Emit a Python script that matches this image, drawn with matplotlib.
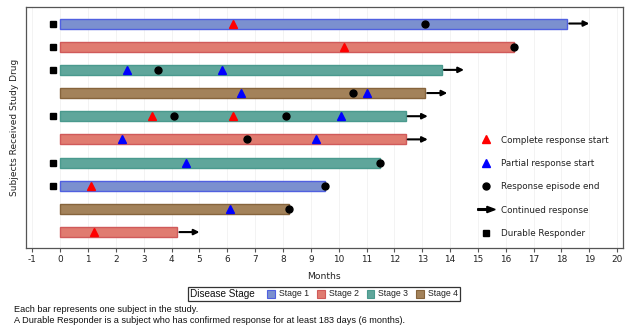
import matplotlib
matplotlib.use('Agg')
import matplotlib.pyplot as plt
import matplotlib.patches as mpatches
import numpy as np
from matplotlib.lines import Line2D
from matplotlib.legend_handler import HandlerPatch
from matplotlib.offsetbox import TextArea, DrawingArea, HPacker, AnchoredOffsetbox

# --- Data (one entry per subject, top to bottom) ---
stage = [1, 2, 3, 4, 3, 2, 3, 1, 4, 2]
duration = [18.2, 16.3, 13.7, 13.1, 12.4, 12.4, 11.5, 9.5, 8.2, 4.2]
cr_start = [[6.2], [10.2], [], [], [3.3, 6.2], [], [], [1.1], [], [1.2]]
pr_start = [[], [], [2.4, 5.8], [6.5, 11.0], [10.1], [2.2, 9.2], [4.5], [], [6.1], []]
resp_end = [[13.1], [16.3], [3.5], [10.5], [4.1, 8.1], [6.7], [11.5], [9.5], [8.2], []]
continued = [True, False, True, True, True, True, False, False, False, True]
durable = [True, True, True, False, True, False, True, True, False, False]

stage_labels = ['Stage 1', 'Stage 2', 'Stage 3', 'Stage 4']
x_ticks = list(range(-1, 21))

# --- Styles ---
stage_fill = {1: '#7b90cf', 2: '#e07b70', 3: '#5fa69b', 4: '#a3825a'}
stage_edge = {1: '#5060e0', 2: '#d05a5a', 3: '#4a9a8e', 4: '#86643c'}
DURABLE_X = -0.25

fig = plt.figure(figsize=(6.29, 3.28), dpi=100)
ax = fig.add_axes([26 / 629, 1 - 248.3 / 328, (622.7 - 26) / 629, (248.3 - 7.3) / 328])

rows = np.arange(1, len(duration) + 1)

# vertical grid, very faint
for t in x_ticks:
    ax.axvline(t, color='#f1f1f1', lw=0.6, zorder=0)

# --- Bars ---
ax.barh(rows, duration, left=0, height=0.43,
        color=[stage_fill[s] for s in stage],
        edgecolor=[stage_edge[s] for s in stage], linewidth=1, zorder=2)

# --- Events ---
for i, y in enumerate(rows):
    for x in cr_start[i]:
        ax.plot(x, y, marker='^', color='red', ms=5.5, ls='none', zorder=4)
    for x in pr_start[i]:
        ax.plot(x, y, marker='^', color='blue', ms=5.5, ls='none', zorder=4)
    for x in resp_end[i]:
        ax.plot(x, y, marker='o', color='black', ms=5, ls='none', zorder=4)
    if continued[i]:
        ax.annotate('', xy=(duration[i] + 0.8, y), xytext=(duration[i] + 0.08, y),
                    arrowprops=dict(arrowstyle='-|>', color='black', lw=1.5,
                                    mutation_scale=8, shrinkA=0, shrinkB=0),
                    zorder=4)
    if durable[i]:
        ax.plot(DURABLE_X, y, marker='s', color='black', ms=5, ls='none', zorder=4)

# --- Axes ---
ax.set_xlim(-1.23, 20.2)
ax.set_ylim(10.7, 0.3)
ax.set_xticks(x_ticks)
ax.set_xticklabels([str(t) for t in x_ticks], fontsize=6.4)
ax.set_yticks([])
ax.tick_params(axis='x', length=3, width=0.8, pad=2, color='#555555', labelcolor='#222222')
for sp in ax.spines.values():
    sp.set_color('#555555')
    sp.set_linewidth(0.9)
ax.set_xlabel('Months', fontsize=6.6, color='#222222')
ax.xaxis.set_label_coords(0.5, -0.098)
ax.set_ylabel('Subjects Received Study Drug', fontsize=6.5, color='#222222')
ax.yaxis.set_label_coords(-0.012, 0.5)


# --- Event legend inside the plot ---
def make_arrow(legend, orig_handle, xdescent, ydescent, width, height, fontsize):
    return mpatches.FancyArrow(0, height / 2, width, 0, width=1.2, head_width=4.5,
                               head_length=6, length_includes_head=True, color='black')


arrow_handle = mpatches.Patch(color='black')
handles = [
    Line2D([], [], marker='^', color='red', ls='none', ms=5.5),
    Line2D([], [], marker='^', color='blue', ls='none', ms=5.5),
    Line2D([], [], marker='o', color='black', ls='none', ms=5),
    arrow_handle,
    Line2D([], [], marker='s', color='black', ls='none', ms=5),
]
labels = ['Complete response start', 'Partial response start', 'Response episode end',
          'Continued response', 'Durable Responder']
leg = ax.legend(handles, labels, loc='upper left', bbox_to_anchor=(0.757, 0.468),
                frameon=False, fontsize=6.3, handlelength=2.0, handletextpad=0.7,
                labelspacing=1.64, borderpad=0, borderaxespad=0,
                handler_map={arrow_handle: HandlerPatch(patch_func=make_arrow)})
for t in leg.get_texts():
    t.set_color('#222222')

# --- Disease stage legend below ---
items = []
for k, lab in enumerate(stage_labels, start=1):
    da = DrawingArea(5.5, 5.5, 0, 0)
    da.add_artist(mpatches.Rectangle((0, 0), 5.5, 5.5, facecolor=stage_fill[k],
                                     edgecolor=stage_edge[k], linewidth=0.8))
    items.append(HPacker(children=[da, TextArea(lab, textprops=dict(fontsize=6.3, family='Liberation Sans', color='#222222'))],
                         sep=3, align='center', pad=0))
stage_box = HPacker(children=items, sep=5.5, align='center', pad=0)
title = TextArea('Disease Stage', textprops=dict(fontsize=7.2, family='Liberation Sans', color='#111111'))
full = HPacker(children=[title, stage_box], sep=9, align='center', pad=0)
anch = AnchoredOffsetbox(loc='center', child=full, pad=0.15, frameon=True, borderpad=0,
                         bbox_to_anchor=(324 / 629, 1 - 293.8 / 328),
                         bbox_transform=fig.transFigure)
anch.patch.set_edgecolor('#333333')
anch.patch.set_linewidth(0.9)
anch.patch.set_boxstyle('square', pad=0)
fig.add_artist(anch)

# --- Footnotes ---
fig.text(14 / 629, 1 - 309.3 / 328, 'Each bar represents one subject in the study.',
         fontsize=6.6, family='Liberation Sans', va='center', color='#111111')
fig.text(14 / 629, 1 - 320.3 / 328,
         'A Durable Responder is a subject who has confirmed response for at least 183 days (6 months).',
         fontsize=6.6, family='Liberation Sans', va='center', color='#111111')

fig.savefig('out.png', dpi=100)
